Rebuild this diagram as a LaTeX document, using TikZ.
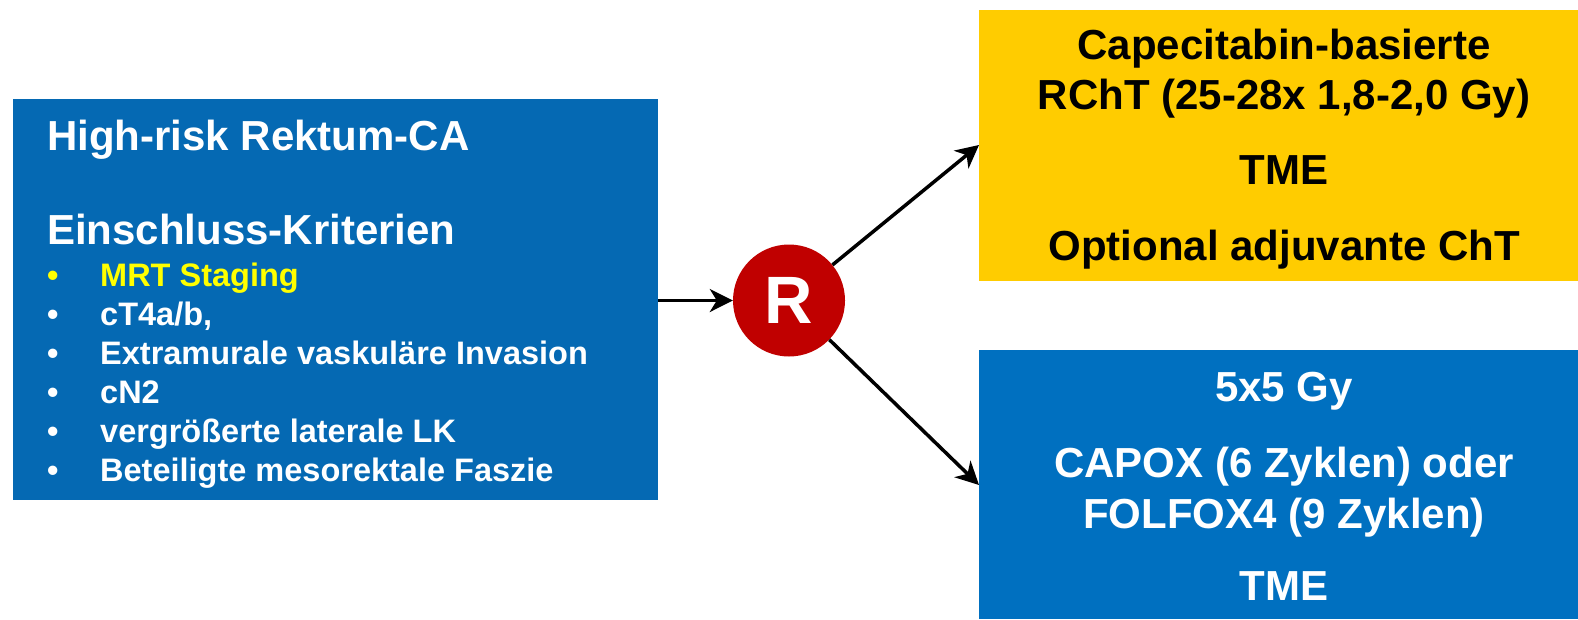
\documentclass[tikz,border=0pt]{standalone}
\usepackage{fontspec}
\setmainfont{Liberation Sans}
\usetikzlibrary{arrows.meta}
\definecolor{lblue}{HTML}{0569B3}
\definecolor{rblue}{HTML}{0070C0}
\definecolor{gold}{HTML}{FFCC00}
\definecolor{rred}{HTML}{C00000}
\definecolor{myyellow}{HTML}{FFFF00}
\begin{document}
\begin{tikzpicture}[x=1pt,y=-1pt,
  box/.style={inner sep=0pt, outer sep=0pt, draw=none},
  big/.style={font=\fontsize{42}{50}\selectfont\bfseries, inner sep=0pt},
  itm/.style={font=\fontsize{32.5}{39}\selectfont\bfseries, inner sep=0pt, anchor=base west, text=white},
  bul/.style={font=\fontsize{32.5}{39}\selectfont\bfseries, inner sep=0pt, anchor=base west, text=white},
  conn/.style={line width=3.5pt, -{Stealth[length=23pt,width=23pt,inset=7pt]}}]
\useasboundingbox (0,0) rectangle (1578,619);
% boxes
\node[box, fill=lblue, minimum width=645pt, minimum height=401pt] (L) at (335.5,299.5) {};
\node[box, fill=gold, minimum width=599pt, minimum height=271pt] (Y) at (1278.5,145.5) {};
\node[box, fill=rblue, minimum width=599pt, minimum height=269pt] (B) at (1278.5,484.5) {};
% left texts
\node[big, text=white, anchor=base west] (h1) at (47,150) {High-risk Rektum-CA};
\node[big, text=white, anchor=base west] (h2) at (47,244) {Einschluss-Kriterien};
\node[bul, text=myyellow] (b1) at (47,286) {•};
\node[itm, text=myyellow] (t1) at (100,286) {MRT Staging};
\node[bul] (b2) at (47,325) {•};
\node[itm] (t2) at (100,325) {cT4a/b,};
\node[bul] (b3) at (47,364) {•};
\node[itm] (t3) at (100,364) {Extramurale vaskuläre Invasion};
\node[bul] (b4) at (47,403) {•};
\node[itm] (t4) at (100,403) {cN2};
\node[bul] (b5) at (47,442) {•};
\node[itm] (t5) at (100,442) {vergrößerte laterale LK};
\node[bul] (b6) at (47,481) {•};
\node[itm] (t6) at (100,481) {Beteiligte mesorektale Faszie};
% yellow texts
\node[big, anchor=base] (y1) at (1284,59) {Capecitabin-basierte};
\node[big, anchor=base] (y2) at (1284,109) {RChT (25-28x 1,8-2,0 Gy)};
\node[big, anchor=base] (y3) at (1284,184) {TME};
\node[big, anchor=base] (y4) at (1284,260) {Optional adjuvante ChT};
% blue right texts
\node[big, anchor=base, text=white] (r1) at (1284,401) {5x5 Gy};
\node[big, anchor=base, text=white] (r2) at (1284,477) {CAPOX (6 Zyklen) oder};
\node[big, anchor=base, text=white] (r3) at (1284,528) {FOLFOX4 (9 Zyklen)};
\node[big, anchor=base, text=white] (r4) at (1284,600) {TME};
% circle
\node[circle, fill=rred, minimum size=112pt, inner sep=0pt, text=white,
  font=\fontsize{67}{67}\selectfont\bfseries] (R) at (789,300.5) {R};
% connectors
\coordinate (ya) at (979,145);
\coordinate (ba) at (979,485);
\draw[conn] (L.east |- R) -- (R);
\draw[conn] (R) -- (ya);
\draw[conn] (R) -- (ba);
\end{tikzpicture}
\end{document}
